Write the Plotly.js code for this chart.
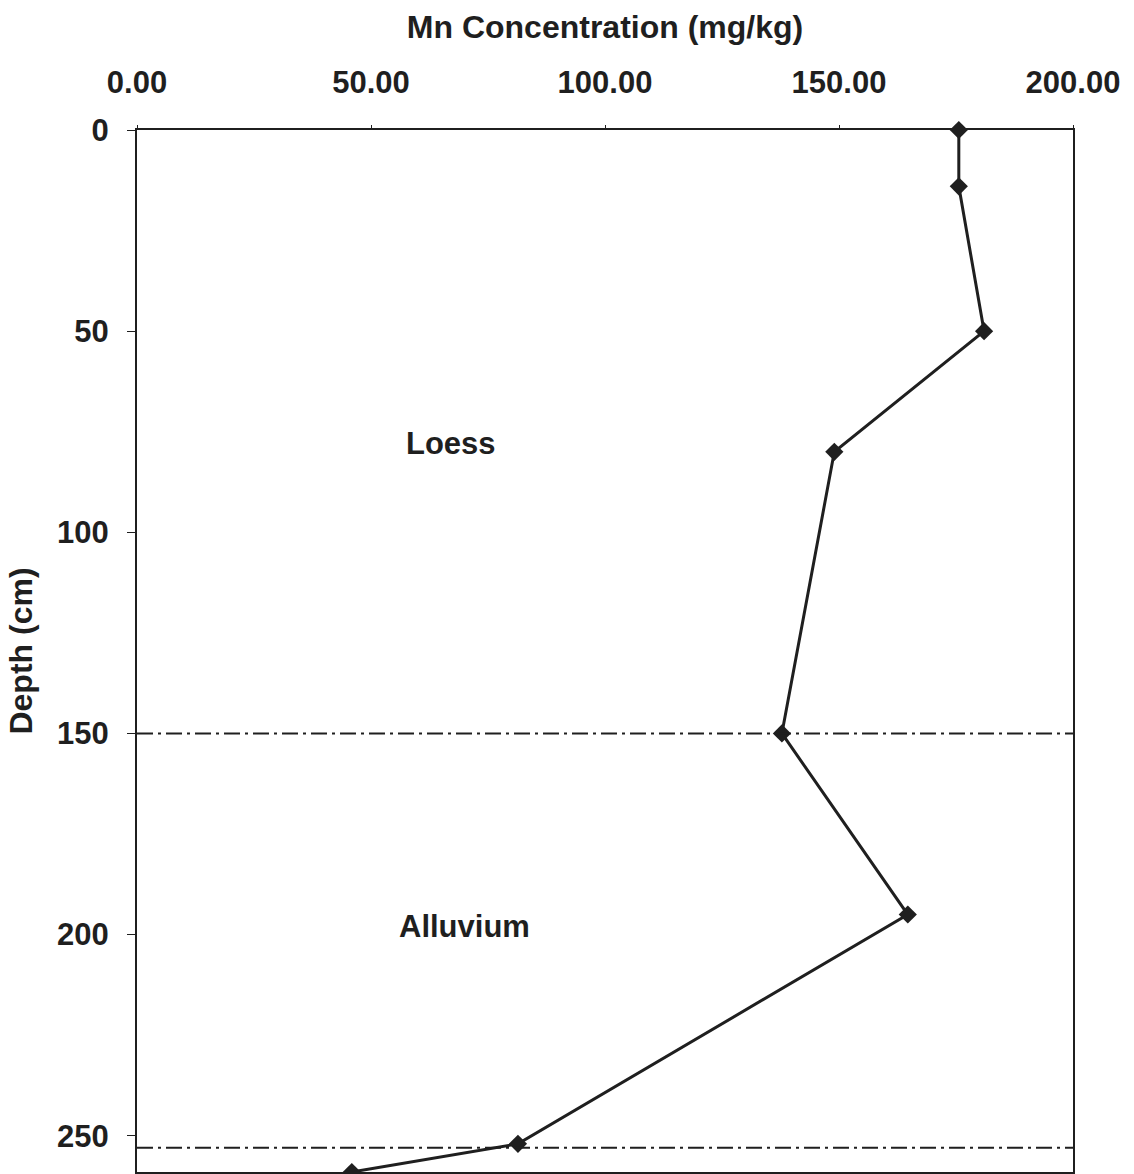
<!DOCTYPE html>
<html>
<head>
<meta charset="utf-8">
<script src="https://cdn.plot.ly/plotly-3.0.1.min.js"></script>
<style>
html,body{margin:0;padding:0;background:#fff;}
#chart{width:1134px;height:1174px;}
</style>
</head>
<body>
<div id="chart"></div>
<script>
// Data
const mnConcentration = [175.6, 175.6, 181.0, 149.0, 137.8, 164.7, 81.4, 45.9];
const depthCm = [0, 14, 50, 80, 150, 195, 252, 259];
const boundaryDepths = [150, 253];
const layerLabels = ["Loess", "Alluvium"];
const layerLabelX = [67, 70];
const layerLabelY = [78, 198];
const xTickVals = [0, 50, 100, 150, 200];
const xTickText = ["0.00", "50.00", "100.00", "150.00", "200.00"];
const yTickVals = [0, 50, 100, 150, 200, 250];

const FONT = "Liberation Sans, Arial, sans-serif";
const INK = "#1f1f1f";

const trace = {
  x: mnConcentration,
  y: depthCm,
  mode: "lines+markers",
  type: "scatter",
  line: {color: INK, width: 3},
  marker: {symbol: "diamond", size: 14, color: INK},
  showlegend: false,
  cliponaxis: false,
  hoverinfo: "x+y"
};

const shapes = boundaryDepths.map(d => ({
  type: "line", xref: "paper", x0: 0, x1: 1, yref: "y", y0: d, y1: d,
  line: {color: INK, width: 2, dash: "16px,5px,3px,5px"}
}));

const annotations = layerLabels.map((t, i) => ({
  text: "<b>" + t + "</b>", x: layerLabelX[i], y: layerLabelY[i],
  xref: "x", yref: "y", showarrow: false,
  font: {family: FONT, size: 31, color: INK}
}));

const layout = {
  width: 1134, height: 1174,
  paper_bgcolor: "#fff", plot_bgcolor: "#fff",
  margin: {l: 137, r: 61, t: 130, b: 2, pad: 0},
  font: {family: FONT, color: INK},
  xaxis: {
    side: "top",
    range: [0, 200],
    tickvals: xTickVals, ticktext: xTickText,
    tickfont: {family: FONT, size: 31, color: INK, weight: "bold"},
    showgrid: false, zeroline: false,
    showline: true, linecolor: INK, linewidth: 2, mirror: true,
    ticks: "outside", ticklen: 3, tickcolor: INK,
    ticklabelstandoff: 20,
    title: {text: "<b>Mn Concentration (mg/kg)</b>", font: {family: FONT, size: 32, color: INK}, standoff: 16}
  },
  yaxis: {
    range: [259, 0],
    tickvals: yTickVals,
    tickfont: {family: FONT, size: 31, color: INK, weight: "bold"},
    showgrid: false, zeroline: false,
    showline: true, linecolor: INK, linewidth: 2, mirror: true,
    ticks: "outside", ticklen: 8, tickcolor: INK,
    ticklabelstandoff: 12,
    title: {text: "<b>Depth (cm)</b>", font: {family: FONT, size: 32, color: INK}, standoff: 15}
  },
  shapes: shapes,
  annotations: annotations
};

Plotly.newPlot("chart", [trace], layout, {displayModeBar: false, staticPlot: true});
</script>
</body>
</html>
